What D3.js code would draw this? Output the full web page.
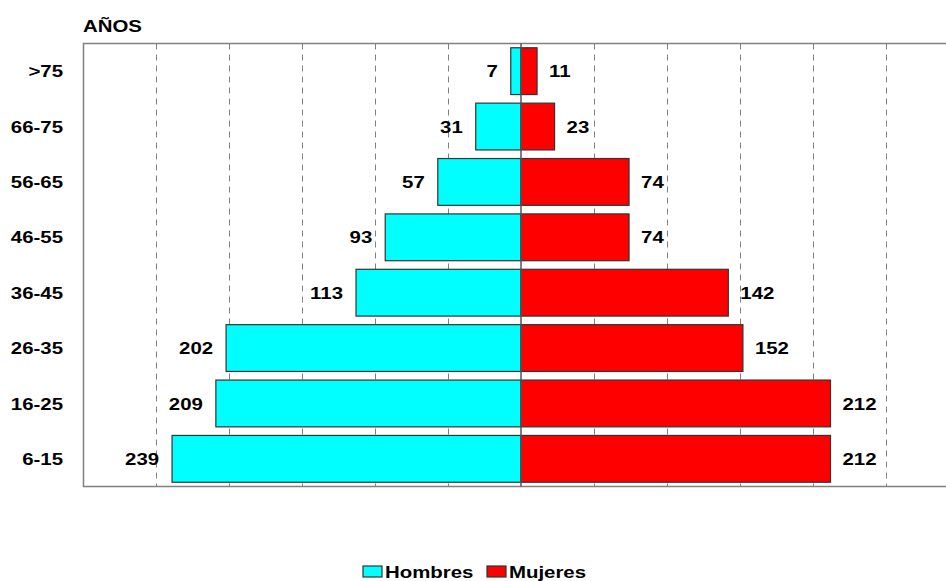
<!DOCTYPE html>
<html>
<head>
<meta charset="utf-8">
<script src="https://cdn.jsdelivr.net/npm/d3@7"></script>
<style>
  body { margin: 0; background: #fff; }
  text { font-family: "Liberation Sans", Arial, sans-serif; font-weight: bold; fill: #000; font-size: 17px; }
</style>
</head>
<body>
<div id="wrapper"></div>
<script>
// data
const ageGroups = [">75", "66-75", "56-65", "46-55", "36-45", "26-35", "16-25", "6-15"];
const hombres = [7, 31, 57, 93, 113, 202, 209, 239];
const mujeres = [11, 23, 74, 74, 142, 152, 212, 212];
const gridTicks = [-250, -200, -150, -100, -50, 50, 100, 150, 200, 250];

const width = 946, height = 581;
const margin = {top: 43.5, left: 83, bottom: 95};
const stretch = 1.2; // the original text is drawn wide

const svg = d3.select("#wrapper").append("svg")
    .attr("width", width)
    .attr("height", height);

const x = d3.scaleLinear()
    .domain([-300, 300])
    .range([margin.left, margin.left + 876]);

const y = d3.scaleBand()
    .domain(ageGroups)
    .range([margin.top, height - margin.bottom + 0.5])
    .paddingInner(0.155)
    .paddingOuter(0.077);

// places a wide text at (px, py)
function place(px, py) {
    return `translate(${px},${py}) scale(${stretch},1)`;
}

// dashed gridlines
svg.append("g")
    .selectAll("line")
    .data(gridTicks)
    .enter()
    .append("line")
    .attr("x1", d => Math.round(x(d)) + 0.5)
    .attr("x2", d => Math.round(x(d)) + 0.5)
    .attr("y1", margin.top)
    .attr("y2", height - margin.bottom)
    .attr("stroke", "#808080")
    .attr("stroke-dasharray", "6,5");

// frame
const bottomY = height - margin.bottom + 0.5;
svg.append("path")
    .attr("d", `M${width},${margin.top}H${margin.left + 0.5}V${bottomY}H${width}`)
    .attr("fill", "none")
    .attr("stroke", "#808080")
    .attr("stroke-width", 1.5);

const bars = svg.append("g");

bars.selectAll(".h")
    .data(ageGroups)
    .enter()
    .append("rect")
    .attr("class", "h")
    .attr("x", (d, i) => x(-hombres[i]))
    .attr("y", d => y(d))
    .attr("width", (d, i) => x(0) - x(-hombres[i]))
    .attr("height", y.bandwidth())
    .attr("fill", "#00ffff")
    .attr("stroke", "#333")
    .attr("stroke-width", 1.2);

bars.selectAll(".m")
    .data(ageGroups)
    .enter()
    .append("rect")
    .attr("class", "m")
    .attr("x", x(0))
    .attr("y", d => y(d))
    .attr("width", (d, i) => x(mujeres[i]) - x(0))
    .attr("height", y.bandwidth())
    .attr("fill", "#ff0000")
    .attr("stroke", "#333")
    .attr("stroke-width", 1.2);

// centre line
svg.append("line")
    .attr("x1", x(0)).attr("x2", x(0))
    .attr("y1", margin.top).attr("y2", bottomY)
    .attr("stroke", "#555")
    .attr("stroke-width", 1.5);

// value labels
svg.append("g")
    .selectAll("text")
    .data(ageGroups)
    .enter()
    .append("text")
    .attr("transform", (d, i) => place(x(-hombres[i]) - 13, y(d) + y.bandwidth() / 2))
    .attr("dy", "0.36em")
    .attr("text-anchor", "end")
    .text((d, i) => hombres[i]);

svg.append("g")
    .selectAll("text")
    .data(ageGroups)
    .enter()
    .append("text")
    .attr("transform", (d, i) => place(x(mujeres[i]) + 12, y(d) + y.bandwidth() / 2))
    .attr("dy", "0.36em")
    .text((d, i) => mujeres[i]);

// category labels
svg.append("g")
    .selectAll("text")
    .data(ageGroups)
    .enter()
    .append("text")
    .attr("transform", d => place(63, y(d) + y.bandwidth() / 2))
    .attr("dy", "0.36em")
    .attr("text-anchor", "end")
    .text(d => d);

svg.append("text")
    .attr("transform", place(83, 32))
    .text("AÑOS");

// legend
const legendItems = [
    {name: "Hombres", color: "#00ffff", x: 363},
    {name: "Mujeres", color: "#ff0000", x: 487}
];
const legend = svg.append("g")
    .selectAll("g")
    .data(legendItems)
    .enter()
    .append("g")
    .attr("transform", d => `translate(${d.x},566)`);
legend.append("rect")
    .attr("width", 19)
    .attr("height", 11)
    .attr("fill", d => d.color)
    .attr("stroke", "#333")
    .attr("stroke-width", 1.2);
legend.append("text")
    .attr("transform", place(22, 12))
    .text(d => d.name);
</script>
</body>
</html>
